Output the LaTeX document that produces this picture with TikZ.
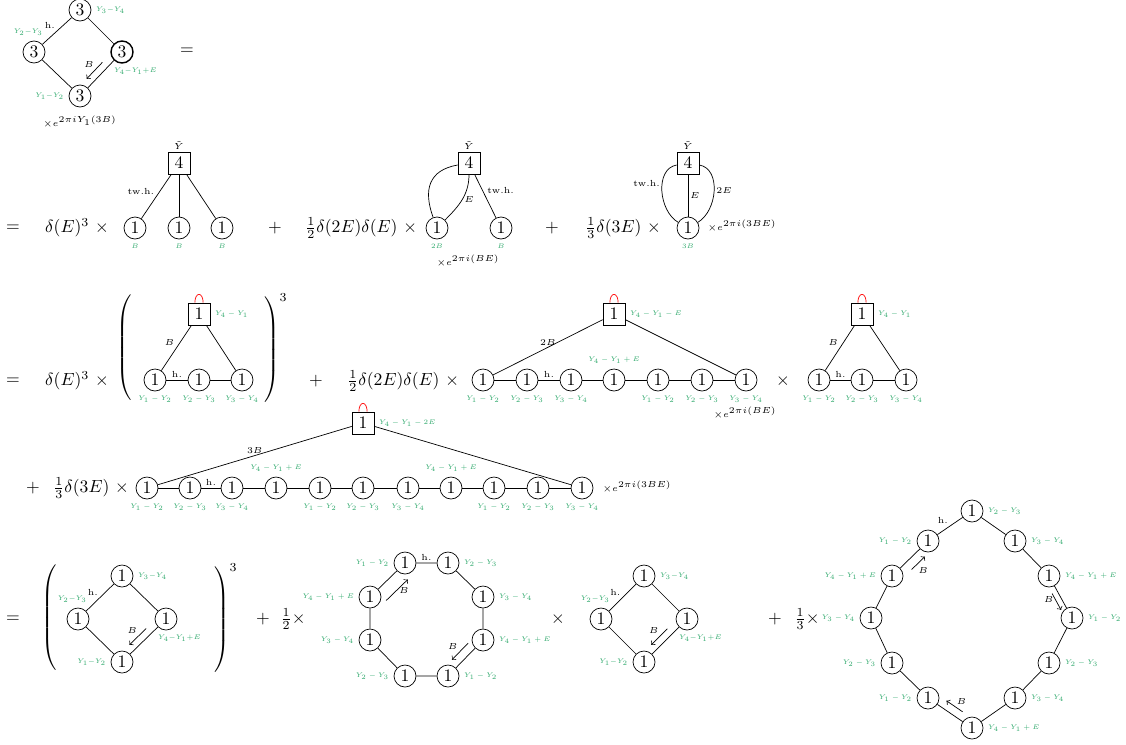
\documentclass[tikz,border=0pt]{standalone}

\definecolor{labgreen}{RGB}{50,170,110}

\begin{document}
\begin{tikzpicture}
            [x=0.2mm, y=0.2mm,
             gaugeNode/.style={circle, draw, minimum size=4.4mm, inner sep=0pt},
             flavorBox/.style={rectangle, draw, minimum size=4.4mm, inner sep=0pt},
             greenLabel/.style={text=labgreen, font=\tiny, scale=0.76},
             edgeLabel/.style={font=\tiny, inner sep=1pt},
             selfLoop/.style={red, out=90, in=90, looseness=3.4},
             bArrow/.style n args={3}{->, shorten <=#2, shorten >=#3, transform canvas={shift={#1}}}]

            \useasboundingbox (0,0) rectangle (1126,-744);

            % rank 3 quiver
            \node[gaugeNode, label={[greenLabel]right:$Y_3{-}Y_4$}] (topThree) at (80,-10) {3};
            \node[gaugeNode, label={[greenLabel, xshift=-1.5mm]above:$Y_2{-}Y_3$}] (leftThree) at (34,-52) {3};
            \node[gaugeNode, thick, label={[greenLabel, xshift=3.5mm]below:$Y_4{-}Y_1{+}E$}] (rightThree) at (122,-52) {3};
            \node[gaugeNode, label={[greenLabel]left:$Y_1{-}Y_2$}] (bottomThree) at (80,-96) {3};
            \node[font=\tiny] (phaseA) at (80,-122) {$\times e^{2\pi i Y_1(3B)}$};
            \node (eqA) at (187,-51) {$=$};

            \draw (topThree) to node[edgeLabel, above left] {h.} (leftThree);
            \draw (topThree) to (rightThree);
            \draw (leftThree) to (bottomThree);
            \draw (rightThree) to (bottomThree);
            \draw [bArrow={(-1mm,1mm)}{1.9mm}{1.1mm}] (rightThree) to node[edgeLabel, above left] {$B$} (bottomThree);

            % second line
            \node (eqB) at (13,-228) {$=$};
            \node[anchor=west] (termB1) at (39,-228) {$\delta(E)^3\ \times$};
            \node[flavorBox, label={[edgeLabel]above:$\tilde{Y}$}] (flavorA) at (179,-163) {4};
            \node[gaugeNode, label={[greenLabel]below:$B$}] (gaugeA1) at (135,-228) {1};
            \node[gaugeNode, label={[greenLabel]below:$B$}] (gaugeA2) at (179,-228) {1};
            \node[gaugeNode, label={[greenLabel]below:$B$}] (gaugeA3) at (222,-228) {1};
            \draw (flavorA) to node[edgeLabel, above left] {tw.h.} (gaugeA1);
            \draw (flavorA) to (gaugeA2);
            \draw (flavorA) to (gaugeA3);

            \node (plusB1) at (275,-228) {$+$};
            \node[anchor=west] (termB2) at (299,-228) {$\frac{1}{2}\delta(2E)\delta(E)\ \times$};
            \node[flavorBox, label={[edgeLabel]above:$\tilde{Y}$}] (flavorB) at (469,-163) {4};
            \node[gaugeNode, label={[greenLabel]below:$2B$}] (gaugeB1) at (437,-228) {1};
            \node[gaugeNode, label={[greenLabel]below:$B$}] (gaugeB2) at (501,-228) {1};
            \draw (flavorB) to[out=190, in=110, looseness=1.3] (gaugeB1);
            \draw (flavorB) to[out=-90, in=45] node[edgeLabel, right] {$E$} (gaugeB1);
            \draw (flavorB) to node[edgeLabel, above right] {tw.h.} (gaugeB2);
            \node[font=\tiny] (phaseB) at (468,-261) {$\times e^{2\pi i(BE)}$};

            \node (plusB2) at (552,-228) {$+$};
            \node[anchor=west] (termB3) at (579,-228) {$\frac{1}{3}\delta(3E)\ \times$};
            \node[flavorBox, label={[edgeLabel]above:$\tilde{Y}$}] (flavorC) at (688,-163) {4};
            \node[gaugeNode, label={[greenLabel]below:$3B$}] (gaugeC1) at (688,-228) {1};
            \draw (flavorC) to node[edgeLabel, right] {$E$} (gaugeC1);
            \draw (flavorC) to[out=190, in=150] node[edgeLabel, left, pos=0.4] {tw.h.} (gaugeC1);
            \draw (flavorC) to[out=-10, in=30] node[edgeLabel, right] {$2E$} (gaugeC1);
            \node[font=\tiny] (phaseC) at (742,-226) {$\times e^{2\pi i(3BE)}$};

            % third line
            \node (eqC) at (13,-381) {$=$};
            \node[anchor=west] (termC1) at (39,-381) {$\delta(E)^3\ \times$};
            \node (lparA) at (125,-350) {$\left(\rule[-10.5mm]{0pt}{21mm}\right.$};
            \node[anchor=west] (rparA) at (256,-350) {$\left.\rule[-10.5mm]{0pt}{21mm}\right)^3$};
            \node[flavorBox, label={[greenLabel]right:$Y_4 - Y_1$}] (flavorD) at (199,-314) {1};
            \node[gaugeNode, label={[greenLabel]below:$Y_1 - Y_2$}] (gaugeD1) at (155,-380) {1};
            \node[gaugeNode, label={[greenLabel]below:$Y_2 - Y_3$}] (gaugeD2) at (199,-380) {1};
            \node[gaugeNode, label={[greenLabel]below:$Y_3 - Y_4$}] (gaugeD3) at (242,-380) {1};
            \draw[selfLoop] (flavorD.110) to (flavorD.70);
            \draw (flavorD) to node[edgeLabel, above left] {$B$} (gaugeD1);
            \draw (flavorD) to (gaugeD3);
            \draw (gaugeD1) -- node[edgeLabel, above] {h.} (gaugeD2) -- (gaugeD3);

            \node (plusC1) at (316,-381) {$+$};
            \node[anchor=west] (termC2) at (341,-381) {$\frac{1}{2}\delta(2E)\delta(E)\ \times$};
            \node[flavorBox, label={[greenLabel]right:$Y_4 - Y_1 - E$}] (flavorE) at (614,-314) {1};
            \node[gaugeNode, label={[greenLabel]below:$Y_1 - Y_2$}] (gaugeE1) at (483,-380) {1};
            \node[gaugeNode, label={[greenLabel]below:$Y_2 - Y_3$}] (gaugeE2) at (527,-380) {1};
            \node[gaugeNode, label={[greenLabel]below:$Y_3 - Y_4$}] (gaugeE3) at (571,-380) {1};
            \node[gaugeNode, label={[greenLabel]above:$Y_4 - Y_1 + E$}] (gaugeE4) at (614,-380) {1};
            \node[gaugeNode, label={[greenLabel]below:$Y_1 - Y_2$}] (gaugeE5) at (658,-380) {1};
            \node[gaugeNode, label={[greenLabel]below:$Y_2 - Y_3$}] (gaugeE6) at (702,-380) {1};
            \node[gaugeNode, label={[greenLabel]below:$Y_3 - Y_4$}] (gaugeE7) at (746,-380) {1};
            \draw[selfLoop] (flavorE.110) to (flavorE.70);
            \draw (flavorE) to node[edgeLabel, above] {$2B$} (gaugeE1);
            \draw (flavorE) to (gaugeE7);
            \draw (gaugeE1) -- (gaugeE2) -- node[edgeLabel, above] {h.} (gaugeE3) -- (gaugeE4) -- (gaugeE5) -- (gaugeE6) -- (gaugeE7);
            \node[font=\tiny] (phaseE) at (745,-413) {$\times e^{2\pi i(BE)}$};

            \node (timesC) at (783,-381) {$\times$};
            \node[flavorBox, label={[greenLabel]right:$Y_4 - Y_1$}] (flavorF) at (862,-314) {1};
            \node[gaugeNode, label={[greenLabel]below:$Y_1 - Y_2$}] (gaugeF1) at (819,-380) {1};
            \node[gaugeNode, label={[greenLabel]below:$Y_2 - Y_3$}] (gaugeF2) at (862,-380) {1};
            \node[gaugeNode, label={[greenLabel]below:$Y_3 - Y_4$}] (gaugeF3) at (906,-380) {1};
            \draw[selfLoop] (flavorF.110) to (flavorF.70);
            \draw (flavorF) to node[edgeLabel, above left] {$B$} (gaugeF1);
            \draw (flavorF) to (gaugeF3);
            \draw (gaugeF1) -- node[edgeLabel, above] {h.} (gaugeF2) -- (gaugeF3);

            % fourth line
            \node (plusD) at (33,-488) {$+$};
            \node[anchor=west] (termD) at (47,-488) {$\frac{1}{3}\delta(3E)\ \times$};
            \node[flavorBox, label={[greenLabel]right:$Y_4 - Y_1 - 2E$}] (flavorG) at (363,-423) {1};
            \node[gaugeNode, label={[greenLabel]below:$Y_1 - Y_2$}] (gaugeG1) at (147,-488) {1};
            \node[gaugeNode, label={[greenLabel]below:$Y_2 - Y_3$}] (gaugeG2) at (190,-488) {1};
            \node[gaugeNode, label={[greenLabel]below:$Y_3 - Y_4$}] (gaugeG3) at (232,-488) {1};
            \node[gaugeNode, label={[greenLabel]above:$Y_4 - Y_1 + E$}] (gaugeG4) at (276,-488) {1};
            \node[gaugeNode, label={[greenLabel]below:$Y_1 - Y_2$}] (gaugeG5) at (320,-488) {1};
            \node[gaugeNode, label={[greenLabel]below:$Y_2 - Y_3$}] (gaugeG6) at (363,-488) {1};
            \node[gaugeNode, label={[greenLabel]below:$Y_3 - Y_4$}] (gaugeG7) at (408,-488) {1};
            \node[gaugeNode, label={[greenLabel]above:$Y_4 - Y_1 + E$}] (gaugeG8) at (451,-488) {1};
            \node[gaugeNode, label={[greenLabel]below:$Y_1 - Y_2$}] (gaugeG9) at (494,-488) {1};
            \node[gaugeNode, label={[greenLabel]below:$Y_2 - Y_3$}] (gaugeG10) at (538,-488) {1};
            \node[gaugeNode, label={[greenLabel]below:$Y_3 - Y_4$}] (gaugeG11) at (582,-488) {1};
            \draw[selfLoop] (flavorG.110) to (flavorG.70);
            \draw (flavorG) to node[edgeLabel, above] {$3B$} (gaugeG1);
            \draw (flavorG) to (gaugeG11);
            \draw (gaugeG1) -- (gaugeG2) -- node[edgeLabel, above] {h.} (gaugeG3) -- (gaugeG4) -- (gaugeG5) -- (gaugeG6)
                -- (gaugeG7) -- (gaugeG8) -- (gaugeG9) -- (gaugeG10) -- (gaugeG11);
            \node[font=\tiny] (phaseG) at (637,-487) {$\times e^{2\pi i(3BE)}$};

            % fifth line
            \node (eqE) at (13,-619) {$=$};
            \node (lparB) at (50,-619) {$\left(\rule[-10.2mm]{0pt}{20.4mm}\right.$};
            \node[anchor=west] (rparB) at (206,-619) {$\left.\rule[-10.2mm]{0pt}{20.4mm}\right)^3$};
            \node[gaugeNode, label={[greenLabel]right:$Y_3{-}Y_4$}] (gaugeH1) at (122,-576) {1};
            \node[gaugeNode, label={[greenLabel, xshift=-1.5mm]above:$Y_2{-}Y_3$}] (gaugeH2) at (78,-619) {1};
            \node[gaugeNode, label={[greenLabel, xshift=3.5mm]below:$Y_4{-}Y_1{+}E$}] (gaugeH3) at (166,-619) {1};
            \node[gaugeNode, label={[greenLabel]left:$Y_1{-}Y_2$}] (gaugeH4) at (122,-662) {1};
            \draw (gaugeH1) to node[edgeLabel, above left] {h.} (gaugeH2);
            \draw (gaugeH1) to (gaugeH3);
            \draw (gaugeH2) to (gaugeH4);
            \draw (gaugeH3) to (gaugeH4);
            \draw [bArrow={(-1mm,1mm)}{1.9mm}{1.2mm}] (gaugeH3) to node[edgeLabel, above left] {$B$} (gaugeH4);

            \node (plusE1) at (263,-619) {$+$};
            \node (termE1) at (293,-619) {$\frac{1}{2}\times$};
            \node[gaugeNode, label={[greenLabel]left:$Y_1 - Y_2$}] (gaugeI1) at (405,-563) {1};
            \node[gaugeNode, label={[greenLabel]right:$Y_2 - Y_3$}] (gaugeI2) at (448,-563) {1};
            \node[gaugeNode, label={[greenLabel]right:$Y_3 - Y_4$}] (gaugeI3) at (483,-597) {1};
            \node[gaugeNode, label={[greenLabel]right:$Y_4 - Y_1 + E$}] (gaugeI4) at (483,-640) {1};
            \node[gaugeNode, label={[greenLabel]right:$Y_1 - Y_2$}] (gaugeI5) at (448,-676) {1};
            \node[gaugeNode, label={[greenLabel]left:$Y_2 - Y_3$}] (gaugeI6) at (405,-676) {1};
            \node[gaugeNode, label={[greenLabel]left:$Y_3 - Y_4$}] (gaugeI7) at (370,-640) {1};
            \node[gaugeNode, label={[greenLabel]left:$Y_4 - Y_1 + E$}] (gaugeI8) at (370,-597) {1};
            \draw (gaugeI1) -- node[edgeLabel, above] {h.} (gaugeI2) -- (gaugeI3) -- (gaugeI4) -- (gaugeI5)
                -- (gaugeI6) -- (gaugeI7) -- (gaugeI8) -- (gaugeI1);
            \draw [bArrow={(1.9mm,-2mm)}{-0.4mm}{-0.4mm}] (gaugeI8) to node[edgeLabel, right] {$B$} (gaugeI1);
            \draw [bArrow={(-1.2mm,1.2mm)}{0.3mm}{0.6mm}] (gaugeI4) to node[edgeLabel, above left] {$B$} (gaugeI5);

            \node (timesE) at (558,-619) {$\times$};
            \node[gaugeNode, label={[greenLabel]right:$Y_3{-}Y_4$}] (gaugeJ1) at (644,-576) {1};
            \node[gaugeNode, label={[greenLabel, xshift=-1.5mm]above:$Y_2{-}Y_3$}] (gaugeJ2) at (601,-619) {1};
            \node[gaugeNode, label={[greenLabel, xshift=3.5mm]below:$Y_4{-}Y_1{+}E$}] (gaugeJ3) at (687,-619) {1};
            \node[gaugeNode, label={[greenLabel]left:$Y_1{-}Y_2$}] (gaugeJ4) at (644,-662) {1};
            \draw (gaugeJ1) to node[edgeLabel, above left] {h.} (gaugeJ2);
            \draw (gaugeJ1) to (gaugeJ3);
            \draw (gaugeJ2) to (gaugeJ4);
            \draw (gaugeJ3) to (gaugeJ4);
            \draw [bArrow={(-1mm,1mm)}{1.9mm}{1.2mm}] (gaugeJ3) to node[edgeLabel, above left] {$B$} (gaugeJ4);

            \node (plusE2) at (775,-619) {$+$};
            \node (termE2) at (807,-619) {$\frac{1}{3}\times$};
            \node[gaugeNode, label={[greenLabel]right:$Y_2 - Y_3$}] (gaugeK1) at (972,-511) {1};
            \node[gaugeNode, label={[greenLabel]right:$Y_3 - Y_4$}] (gaugeK2) at (1015,-541) {1};
            \node[gaugeNode, label={[greenLabel]right:$Y_4 - Y_1 + E$}] (gaugeK3) at (1049,-576) {1};
            \node[gaugeNode, label={[greenLabel]right:$Y_1 - Y_2$}] (gaugeK4) at (1072,-618) {1};
            \node[gaugeNode, label={[greenLabel]right:$Y_2 - Y_3$}] (gaugeK5) at (1049,-663) {1};
            \node[gaugeNode, label={[greenLabel]right:$Y_3 - Y_4$}] (gaugeK6) at (1015,-698) {1};
            \node[gaugeNode, label={[greenLabel]right:$Y_4 - Y_1 + E$}] (gaugeK7) at (972,-728) {1};
            \node[gaugeNode, label={[greenLabel]left:$Y_1 - Y_2$}] (gaugeK8) at (928,-698) {1};
            \node[gaugeNode, label={[greenLabel]left:$Y_2 - Y_3$}] (gaugeK9) at (892,-663) {1};
            \node[gaugeNode, label={[greenLabel]left:$Y_3 - Y_4$}] (gaugeK10) at (871,-618) {1};
            \node[gaugeNode, label={[greenLabel]left:$Y_4 - Y_1 + E$}] (gaugeK11) at (892,-576) {1};
            \node[gaugeNode, label={[greenLabel]left:$Y_1 - Y_2$}] (gaugeK12) at (928,-541) {1};
            \draw (gaugeK1) -- (gaugeK2) -- (gaugeK3) -- (gaugeK4) -- (gaugeK5) -- (gaugeK6) -- (gaugeK7)
                -- (gaugeK8) -- (gaugeK9) -- (gaugeK10) -- (gaugeK11) -- (gaugeK12) -- node[edgeLabel, above left] {h.} (gaugeK1);
            \draw [bArrow={(1.25mm,-1.3mm)}{1.45mm}{0.33mm}] (gaugeK11) to node[edgeLabel, below right] {$B$} (gaugeK12);
            \draw [bArrow={(-1mm,-0.55mm)}{1.1mm}{0.2mm}] (gaugeK3) to node[edgeLabel, left] {$B$} (gaugeK4);
            \draw [bArrow={(0.9mm,1.35mm)}{1.1mm}{1.1mm}] (gaugeK7) to node[edgeLabel, above right] {$B$} (gaugeK8);
        \end{tikzpicture}
\end{document}
